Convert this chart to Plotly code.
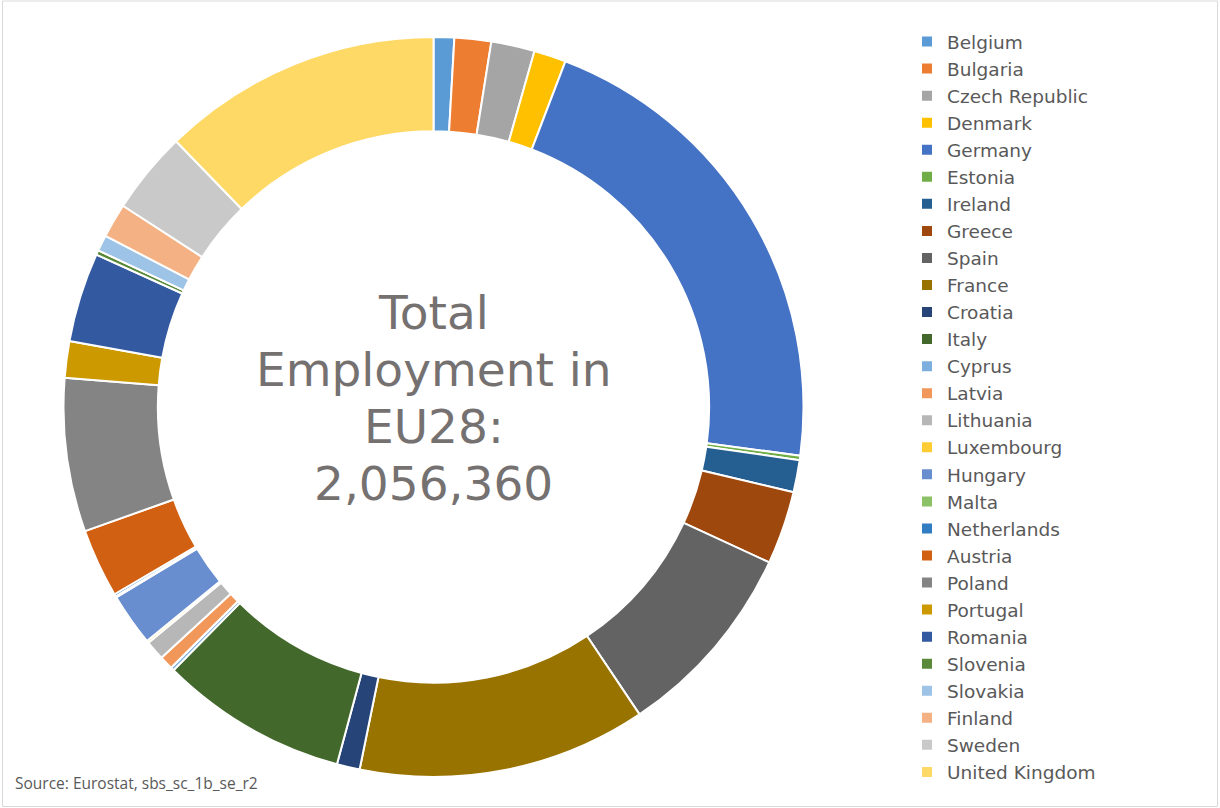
import plotly.graph_objects as go

# Employment by member state (persons employed)
countries = [
    "Belgium", "Bulgaria", "Czech Republic", "Denmark", "Germany", "Estonia",
    "Ireland", "Greece", "Spain", "France", "Croatia", "Italy", "Cyprus",
    "Latvia", "Lithuania", "Luxembourg", "Hungary", "Malta", "Netherlands",
    "Austria", "Poland", "Portugal", "Romania", "Slovenia", "Slovakia",
    "Finland", "Sweden", "United Kingdom",
]
employment = [
    18500, 32900, 39100, 28800, 438000, 4100,
    28800, 65800, 178900, 259100, 20600, 168600, 3100,
    12300, 17500, 2100, 47300, 1000, 2100,
    61700, 137800, 32900, 80200, 4100, 14400,
    30800, 74000, 251860,
]
colors = [
    "#5B9BD5", "#ED7D31", "#A5A5A5", "#FFC000", "#4472C4", "#70AD47",
    "#255E91", "#9E480E", "#636363", "#997300", "#264478", "#43682B", "#7CAFDD",
    "#F1975A", "#B7B7B7", "#FFCD33", "#698ED0", "#8CC168", "#327DC2",
    "#D26012", "#848484", "#CC9A00", "#335AA1", "#5A8A39", "#9DC3E6",
    "#F4B183", "#C9C9C9", "#FFD966",
]

W, H = 1220, 808
total = sum(employment)

# pie centre and outer radius in pixels
cx, cy, r = 433.5, 407, 370

fig = go.Figure(
    go.Pie(
        labels=countries,
        values=employment,
        marker=dict(colors=colors, line=dict(color="white", width=2)),
        hole=0.745,
        sort=False,
        direction="clockwise",
        rotation=0,
        textinfo="none",
        domain=dict(x=[(cx - r) / W, (cx + r) / W],
                    y=[(H - cy - r) / H, (H - cy + r) / H]),
    )
)

# centre label, one annotation per line for a tight line pitch
centre_lines = ["Total", "Employment in", "EU28:", f"{total:,}"]
line_mid0, line_pitch = 312, 57.2
for i, line in enumerate(centre_lines):
    fig.add_annotation(
        text=line,
        x=cx / W, y=(H - (line_mid0 + i * line_pitch)) / H,
        xref="paper", yref="paper",
        xanchor="center", yanchor="middle", showarrow=False,
        font=dict(family="DejaVu Sans", size=47, color="#767171"),
    )

fig.add_annotation(
    text="Source: Eurostat, sbs_sc_1b_se_r2",
    x=13 / W, y=(H - 783) / H, xref="paper", yref="paper",
    xanchor="left", yanchor="middle", showarrow=False,
    font=dict(family="Open Sans", size=15.5, color="#595959"),
)

# thin frame around the chart area
fig.add_shape(
    type="rect", xref="paper", yref="paper",
    x0=2.5 / W, x1=1217.5 / W, y0=1.5 / H, y1=(H - 1) / H,
    line=dict(color="#D9D9D9", width=1), fillcolor="rgba(0,0,0,0)",
)

fig.update_layout(
    width=W, height=H,
    margin=dict(l=0, r=0, t=0, b=0),
    paper_bgcolor="white", plot_bgcolor="white",
    showlegend=True,
    legend=dict(
        x=907 / W, y=(H - 23) / H, xanchor="left", yanchor="top",
        font=dict(family="DejaVu Sans", size=18.5, color="#595959"),
        itemwidth=30, bgcolor="rgba(0,0,0,0)",
    ),
)

fig.write_html("out.html")
